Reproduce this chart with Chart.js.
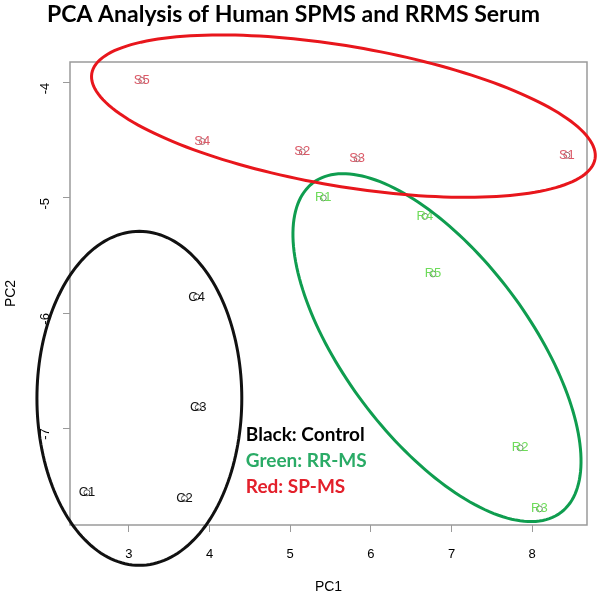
<!DOCTYPE html>
<html>

<head>
    <title>PCA Analysis of Human SPMS and RRMS Serum</title>
    <script src="https://cdn.jsdelivr.net/npm/chart.js"></script>
    <style>
        html, body {
            margin: 0;
            padding: 0;
            background: #fff;
        }

        #wrap {
            width: 600px;
            height: 596px;
        }
    </style>
</head>

<body>
    <div id="wrap"><canvas id="pcaChart"></canvas></div>

    <script>
        // Sample scores
        const controlLabels = ['C1', 'C2', 'C3', 'C4'];
        const controlPC1 = [2.48, 3.69, 3.86, 3.84];
        const controlPC2 = [-7.56, -7.61, -6.82, -5.86];

        const rrmsLabels = ['R1', 'R2', 'R3', 'R4', 'R5'];
        const rrmsPC1 = [5.41, 7.85, 8.09, 6.67, 6.77];
        const rrmsPC2 = [-5.00, -7.17, -7.70, -5.16, -5.66];

        const spmsLabels = ['S1', 'S2', 'S3', 'S4', 'S5'];
        const spmsPC1 = [8.43, 5.15, 5.83, 3.91, 3.16];
        const spmsPC2 = [-4.63, -4.60, -4.66, -4.51, -3.98];

        const pc1Ticks = [3, 4, 5, 6, 7, 8];
        const pc2Ticks = [-7, -6, -5, -4];

        // Group outlines: centre plus two half-axis vectors, in PC units
        const blackOutline = [3.13, -6.74, 0, 1.45, 1.27, 0];
        const greenOutline = [6.82, -6.30, 1.535, -1.432, -0.913, -0.48];
        const redOutline = [5.66, -4.29, 3.12, -0.37, -0.14, -0.60];

        const legendLines = ['Black: Control', 'Green: RR-MS', 'Red: SP-MS'];

        const toPoints = (xs, ys) => xs.map((x, i) => ({ x: x, y: ys[i] }));

        const groupPlugin = {
            id: 'groups',
            beforeDatasetsDraw(chart) {
                const ctx = chart.ctx;
                const a = chart.chartArea;
                ctx.save();
                ctx.strokeStyle = '#9a9a9a';
                ctx.lineWidth = 1.5;
                ctx.strokeRect(a.left, a.top, a.right - a.left, a.bottom - a.top);
                ctx.restore();
            },
            afterDatasetsDraw(chart) {
                const ctx = chart.ctx;
                const xs = chart.scales.x;
                const ys = chart.scales.y;

                // sample names on top of the markers
                ctx.save();
                ctx.font = '13px "Liberation Sans", Arial, sans-serif';
                ctx.textAlign = 'center';
                ctx.textBaseline = 'middle';
                chart.data.datasets.forEach((ds, i) => {
                    const meta = chart.getDatasetMeta(i);
                    ctx.fillStyle = ds.labelColor;
                    meta.data.forEach((pt, j) => {
                        ctx.fillText(ds.names[j], pt.x, pt.y);
                    });
                });
                ctx.restore();

                // ellipses round each group
                const outlines = [
                    [blackOutline, '#111111'],
                    [greenOutline, '#0f9d4f'],
                    [redOutline, '#e8161c']
                ];
                ctx.save();
                ctx.lineWidth = 3;
                outlines.forEach(([e, color]) => {
                    ctx.strokeStyle = color;
                    ctx.beginPath();
                    for (let k = 0; k <= 180; k++) {
                        const t = k / 180 * Math.PI * 2;
                        const px = xs.getPixelForValue(e[0] + e[2] * Math.cos(t) + e[4] * Math.sin(t));
                        const py = ys.getPixelForValue(e[1] + e[3] * Math.cos(t) + e[5] * Math.sin(t));
                        if (k === 0) ctx.moveTo(px, py);
                        else ctx.lineTo(px, py);
                    }
                    ctx.closePath();
                    ctx.stroke();
                });
                ctx.restore();

                // key text
                const colors = ['#000000', '#2aab66', '#e3202b'];
                const x0 = xs.getPixelForValue(4.45);
                const y0 = ys.getPixelForValue(-7.06);
                ctx.save();
                ctx.font = 'bold 19px Lato, "Open Sans", sans-serif';
                ctx.textAlign = 'left';
                ctx.textBaseline = 'middle';
                legendLines.forEach((txt, i) => {
                    ctx.fillStyle = colors[i];
                    ctx.fillText(txt, x0, y0 + i * 26);
                });
                ctx.restore();
            }
        };

        const ctx = document.getElementById('pcaChart').getContext('2d');

        new Chart(ctx, {
            type: 'scatter',
            data: {
                datasets: [{
                    label: 'Control',
                    names: controlLabels,
                    labelColor: '#111111',
                    data: toPoints(controlPC1, controlPC2),
                    borderColor: '#555555',
                    backgroundColor: 'rgba(0,0,0,0)',
                    pointRadius: 3,
                    borderWidth: 1
                }, {
                    label: 'RR-MS',
                    names: rrmsLabels,
                    labelColor: '#6edc5a',
                    data: toPoints(rrmsPC1, rrmsPC2),
                    borderColor: '#6b8f6b',
                    backgroundColor: 'rgba(0,0,0,0)',
                    pointRadius: 3,
                    borderWidth: 1
                }, {
                    label: 'SP-MS',
                    names: spmsLabels,
                    labelColor: '#dc5a68',
                    data: toPoints(spmsPC1, spmsPC2),
                    borderColor: '#9a6a70',
                    backgroundColor: 'rgba(0,0,0,0)',
                    pointRadius: 3,
                    borderWidth: 1
                }]
            },
            plugins: [groupPlugin],
            options: {
                responsive: true,
                maintainAspectRatio: false,
                animation: false,
                layout: {
                    padding: { left: 0, right: 13, top: 0, bottom: 0 }
                },
                plugins: {
                    legend: { display: false },
                    tooltip: { enabled: false },
                    title: {
                        display: true,
                        text: 'PCA Analysis of Human SPMS and RRMS Serum',
                        color: '#000',
                        font: { family: 'Lato, "Open Sans", sans-serif', size: 23, weight: 'bold', lineHeight: 1.2 },
                        padding: { top: 1, bottom: 33.4 }
                    }
                },
                scales: {
                    x: {
                        type: 'linear',
                        min: 2.27,
                        max: 8.68,
                        afterBuildTicks: (axis) => {
                            axis.ticks = pc1Ticks.map(v => ({ value: v }));
                        },
                        afterFit: (axis) => {
                            axis.height = 71;
                        },
                        grid: {
                            drawOnChartArea: false,
                            tickLength: 7,
                            tickColor: '#9a9a9a'
                        },
                        border: { display: false },
                        ticks: {
                            color: '#000',
                            padding: 15,
                            font: { family: '"Liberation Sans", Arial, sans-serif', size: 13 }
                        },
                        title: {
                            display: true,
                            text: 'PC1',
                            color: '#000',
                            font: { family: '"Liberation Sans", Arial, sans-serif', size: 14 },
                            padding: { top: 4, bottom: 0 }
                        }
                    },
                    y: {
                        type: 'linear',
                        min: -7.84,
                        max: -3.82,
                        afterBuildTicks: (axis) => {
                            axis.ticks = pc2Ticks.map(v => ({ value: v }));
                        },
                        afterFit: (axis) => {
                            axis.width = 70;
                        },
                        grid: {
                            drawOnChartArea: false,
                            tickLength: 7,
                            tickColor: '#9a9a9a'
                        },
                        border: { display: false },
                        ticks: {
                            color: '#000',
                            padding: 18,
                            minRotation: 90,
                            maxRotation: 90,
                            font: { family: '"Liberation Sans", Arial, sans-serif', size: 13 }
                        },
                        title: {
                            display: true,
                            text: 'PC2',
                            color: '#000',
                            font: { family: '"Liberation Sans", Arial, sans-serif', size: 14 },
                            padding: { top: 3, bottom: 4 }
                        }
                    }
                }
            }
        });
    </script>
</body>

</html>
